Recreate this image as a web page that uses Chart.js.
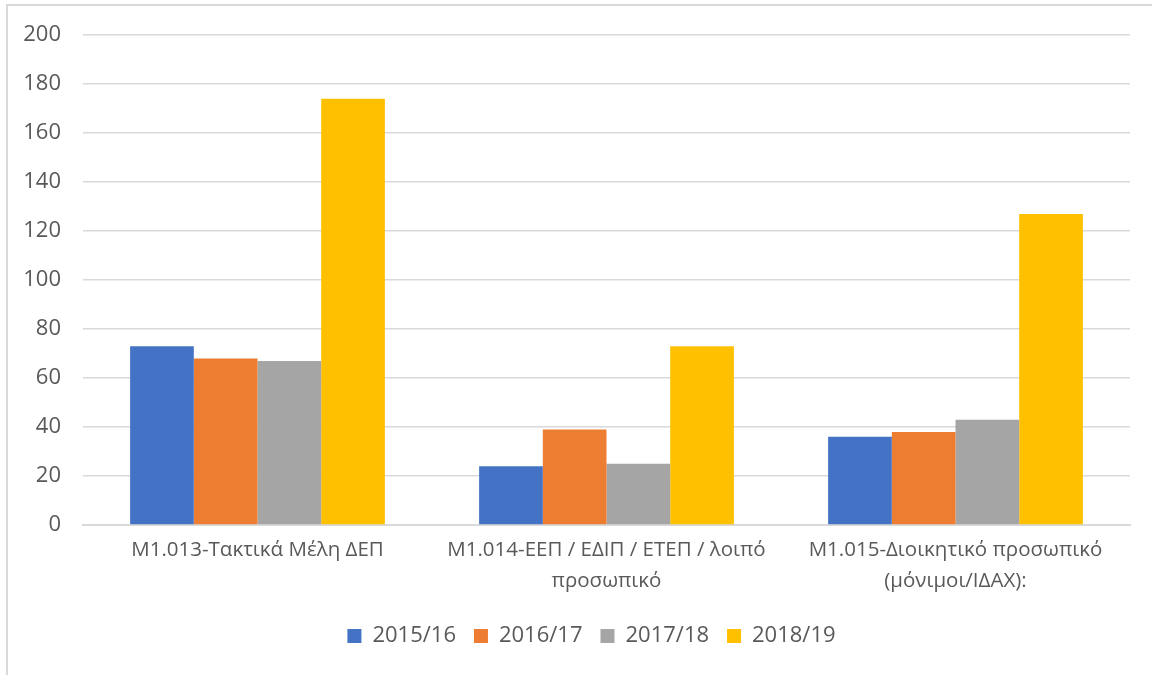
<!DOCTYPE html>
<html>
<head>
<meta charset="utf-8">
<script src="https://cdn.jsdelivr.net/npm/chart.js@4"></script>
<style>
  html, body { margin: 0; padding: 0; background: #fff; }
  #frame {
    position: absolute; left: 6px; top: 4px; width: 1160px; height: 690px;
    border: 2px solid #d9d9d9; box-sizing: border-box;
  }
  #wrap { position: absolute; left: 0; top: 0; width: 1152px; height: 675px; }
</style>
</head>
<body>
<div id="frame"></div>
<div id="wrap"><canvas id="chartStaff"></canvas></div>
<script>
const categories = [
  ["Μ1.013-Τακτικά Μέλη ΔΕΠ"],
  ["Μ1.014-ΕΕΠ / ΕΔΙΠ / ΕΤΕΠ / λοιπό", "προσωπικό"],
  ["Μ1.015-Διοικητικό προσωπικό", "(μόνιμοι/ΙΔΑΧ):"]
];
const seriesNames = ["2015/16", "2016/17", "2017/18", "2018/19"];
const values2015 = [73, 24, 36];
const values2016 = [68, 39, 38];
const values2017 = [67, 25, 43];
const values2018 = [174, 73, 127];
const seriesColors = ["#4472C4", "#ED7D31", "#A5A5A5", "#FFC000"];

const ink = "#595959";
const rule = "#d9d9d9";
const fontFamily = "'Open Sans', sans-serif";

const allValues = [values2015, values2016, values2017, values2018];

// the reference legend sits centred under the plot area, not the whole canvas
const centreLegendOnPlot = {
  id: "centreLegendOnPlot",
  afterLayout(chart) {
    if (chart.legend) chart.legend.left += 53;
  }
};

const ctx = document.getElementById("chartStaff").getContext("2d");
const config = {
  type: "bar",
  data: {
    labels: categories,
    datasets: seriesNames.map((name, i) => ({
      label: name,
      data: allValues[i],
      backgroundColor: seriesColors[i],
      borderWidth: 0,
      categoryPercentage: 0.73,
      barPercentage: 1.0,
    }))
  },
  options: {
    responsive: true,
    maintainAspectRatio: false,
    animation: false,
    layout: { padding: { left: 0, right: 22, top: 33, bottom: 18 } },
    plugins: {
      legend: {
        position: "bottom",
        labels: {
          color: ink,
          font: { family: fontFamily, size: 22 },
          boxWidth: 14,
          boxHeight: 14,
          padding: 18,
        }
      },
      tooltip: { enabled: false }
    },
    scales: {
      x: {
        afterFit: (scale) => { scale.height = 82; },
        ticks: {
          color: ink,
          font: { family: fontFamily, size: 20.5, lineHeight: 1.5 },
          padding: 10,
          maxRotation: 0,
          autoSkip: false,
        },
        grid: { display: false, drawTicks: false },
        border: { color: rule, width: 2 }
      },
      y: {
        min: 0,
        max: 200,
        afterFit: (scale) => { scale.width = 83; },
        ticks: {
          stepSize: 20,
          color: ink,
          font: { family: fontFamily, size: 22 },
          padding: 22,
        },
        grid: { color: rule, lineWidth: 1.5, drawTicks: false },
        border: { display: false }
      }
    }
  },
  plugins: [centreLegendOnPlot]
};

new Chart(ctx, config);
</script>
</body>
</html>
